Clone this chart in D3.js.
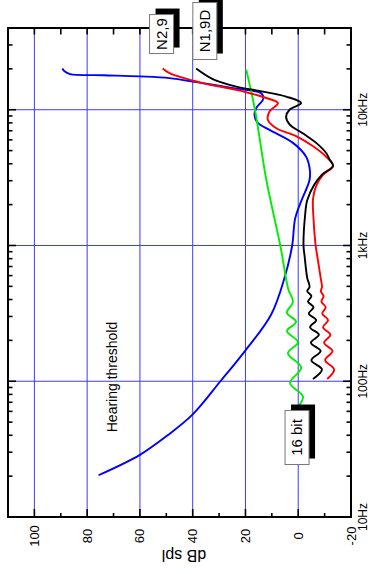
<!DOCTYPE html>
<html>
<head>
<meta charset="utf-8">
<script src="https://cdn.jsdelivr.net/npm/d3@7"></script>
<style>
  html, body { margin: 0; padding: 0; background: #fff; }
  svg { display: block; font-family: "Liberation Sans", Arial, sans-serif; }
</style>
</head>
<body>
<svg id="chart" width="372" height="574"></svg>
<script>
// Frequency axis (Hz) runs upward, level axis (dB spl) runs leftward.
const dbTicks = [100, 80, 60, 40, 20, 0, -20];
const dbMinorTicks = [110, 90, 70, 50, 30, 10, -10];
const freqTicks = [10, 100, 1000, 10000];
const freqTickLabels = ["10Hz", "100Hz", "1kHz", "10kHz"];

// Hearing threshold
const thrFreq = [20.3, 28.7, 40, 57, 100, 164, 309, 578, 1000, 1570, 2000, 2700, 3050, 3600, 4500, 5700, 7100, 8000, 9200, 10300, 11800, 12600, 13300, 14300, 15900, 17100, 17600, 17950, 18300, 19200, 20100];
const thrDb   = [75.7, 60, 49.5, 40, 29.5, 20.5, 10.3, 5.2, 2.3, 1.2, -0.6, -3.4, -4.3, -4.4, -3.0, 2.0, 10.9, 15.3, 16.6, 15.9, 13.4, 13.3, 14.3, 23.5, 38, 48.8, 60, 74, 86.5, 88.6, 89.4];

// N2,9 noise-shaped dither
const n29Freq = [104, 122, 143, 167, 192, 220, 250, 282, 315, 351, 386, 424, 460, 495, 578, 840, 1000, 1570, 2200, 2750, 3300, 3860, 4500, 5400, 6400, 7300, 8400, 9700, 11200, 12200, 14000, 15700, 18600, 20100];
const n29Db   = [-11.0, -13.6, -10.2, -13.0, -9.8, -12.2, -9.4, -11.3, -9.1, -10.4, -8.8, -9.6, -8.6, -9.0, -8.5, -7.2, -6.6, -5.8, -5.6, -6.8, -9.3, -13.2, -10.6, -5.5, 0.8, 8.3, 11.5, 10.9, 7.7, 12.1, 23.5, 36.2, 48.8, 51.4];

// N1,9D noise-shaped dither
const n19Freq = [104, 122, 143, 167, 192, 220, 250, 282, 315, 351, 386, 424, 460, 495, 578, 840, 1000, 1670, 2150, 2790, 3330, 3860, 4300, 4800, 5700, 6700, 7800, 8900, 10000, 11200, 12500, 13600, 14800, 16800, 20100];
const n19Db   = [-5.6, -9.0, -5.0, -8.5, -4.8, -7.8, -4.5, -6.8, -4.0, -5.8, -3.7, -5.0, -3.4, -4.3, -3.4, -2.4, -2.0, -2.6, -3.4, -6.0, -9.0, -13.2, -11.9, -10.6, -6.8, -1.7, 3.3, 4.6, 3.3, -1.1, 4.6, 13.4, 23.5, 32.4, 38.7];

// Plain 16 bit quantisation floor
const bitFreq = [65, 77, 97, 126, 161, 194, 234, 274, 320, 385, 479, 1000, 3050, 10000, 19700];
const bitDb   = [0.0, -1.8, 3.1, -1.1, 3.9, 0.1, 4.3, 0.8, 4.3, 2.0, 3.8, 6.8, 12.1, 16.4, 19.7];

// Curve labels
const labelText = ["16 bit", "N2,9", "N1,9D"];
const labelFreq = [38.5, 36100, 38000];
const labelDb = [0.45, 51.8, 35.4];
const labelBoxLen = [54, 39, 57];

const svg = d3.select("#chart");
const plotLeft = 8, plotRight = 351, plotTop = 28, plotBottom = 517;

const x = d3.scaleLinear().domain([-20, 110]).range([plotRight, plotLeft]);
const y = d3.scaleLog().domain([10, 40000]).range([plotBottom, plotTop]);

const gridColor = "#3c3cff";

// grid
svg.append("g").selectAll("line").data(dbTicks.filter(d => d > -20)).join("line")
  .attr("x1", d => x(d)).attr("x2", d => x(d))
  .attr("y1", plotTop).attr("y2", plotBottom)
  .attr("stroke", gridColor).attr("stroke-width", 1);
svg.append("g").selectAll("line").data(freqTicks.filter(d => d > 10)).join("line")
  .attr("x1", plotLeft).attr("x2", plotRight)
  .attr("y1", d => y(d)).attr("y2", d => y(d))
  .attr("stroke", gridColor).attr("stroke-width", 1);

// log ticks on the left and right edges
const logTicks = [];
for (let dec = 10; dec < 40000; dec *= 10) {
  for (let m = 1; m <= 9; m++) {
    const f = dec * m;
    if (f <= 40000) logTicks.push({f, major: m === 1});
  }
}
const tickG = svg.append("g").attr("stroke", "#000").attr("stroke-width", 1.6);
tickG.selectAll(".tl").data(logTicks).join("line")
  .attr("x1", plotLeft).attr("x2", d => plotLeft + (d.major ? 8 : 4.5))
  .attr("y1", d => y(d.f)).attr("y2", d => y(d.f));
tickG.selectAll(".tr").data(logTicks).join("line")
  .attr("x1", plotRight).attr("x2", d => plotRight - (d.major ? 8 : 4.5))
  .attr("y1", d => y(d.f)).attr("y2", d => y(d.f));

// dB ticks on top and bottom edges
const dbAll = dbTicks.concat(dbMinorTicks).filter(d => d > -20 && d < 110);
tickG.selectAll(".tb").data(dbAll).join("line")
  .attr("x1", d => x(d)).attr("x2", d => x(d))
  .attr("y1", plotBottom).attr("y2", d => plotBottom - (dbTicks.includes(d) ? 8 : 4));
tickG.selectAll(".tt").data(dbAll).join("line")
  .attr("x1", d => x(d)).attr("x2", d => x(d))
  .attr("y1", plotTop).attr("y2", plotTop + 6.5);

// curves
const line = d3.line()
  .x(d => x(d[1])).y(d => y(d[0]))
  .curve(d3.curveCatmullRom.alpha(0.5));
function curve(fs, ds, color) {
  svg.append("path")
    .datum(fs.map((f, i) => [f, ds[i]]))
    .attr("d", line)
    .attr("fill", "none").attr("stroke", color)
    .attr("stroke-width", 1.9).attr("stroke-linejoin", "round");
}
curve(thrFreq, thrDb, "#0000ff");
curve(bitFreq, bitDb, "#00ee00");
curve(n29Freq, n29Db, "#ff0000");
curve(n19Freq, n19Db, "#000000");

// frame
svg.append("rect").attr("x", plotLeft).attr("y", plotTop)
  .attr("width", plotRight - plotLeft).attr("height", plotBottom - plotTop)
  .attr("fill", "none").attr("stroke", "#000").attr("stroke-width", 2);

// axis labels
svg.append("g").selectAll("text").data(dbTicks).join("text")
  .attr("transform", d => `translate(${x(d)},536) rotate(-90)`)
  .attr("text-anchor", "middle").attr("dy", "0.35em")
  .attr("font-size", 13).text(d => d);
svg.append("g").selectAll("text").data(freqTicks).join("text")
  .attr("transform", d => `translate(363,${y(d)}) rotate(-90)`)
  .attr("text-anchor", "middle").attr("dy", "0.35em")
  .attr("font-size", 12).text((d, i) => freqTickLabels[i]);
svg.append("text")
  .attr("transform", "translate(184,556) rotate(180)")
  .attr("text-anchor", "middle").attr("dy", "0.35em")
  .attr("font-size", 16).text("dB spl");

svg.append("text")
  .attr("transform", "translate(112,377) rotate(-90)")
  .attr("text-anchor", "middle").attr("dy", "0.35em")
  .attr("font-size", 14).text("Hearing threshold");

// boxed labels with a black drop shadow up and to the right
labelText.forEach((t, i) => {
  const cx = x(labelDb[i]), cy = y(labelFreq[i]);
  const g = svg.append("g").attr("transform", `translate(${cx},${cy}) rotate(-90)`);
  const w = labelBoxLen[i], h = 24;
  g.append("rect").attr("x", -w / 2 + 6).attr("y", -h / 2 + 6)
    .attr("width", w).attr("height", h).attr("fill", "#000");
  g.append("rect").attr("x", -w / 2).attr("y", -h / 2)
    .attr("width", w).attr("height", h).attr("fill", "#fff")
    .attr("stroke", "#777").attr("stroke-width", 1);
  g.append("text").attr("text-anchor", "middle").attr("dy", "0.36em")
    .attr("font-size", 15).text(t);
});
</script>
</body>
</html>
